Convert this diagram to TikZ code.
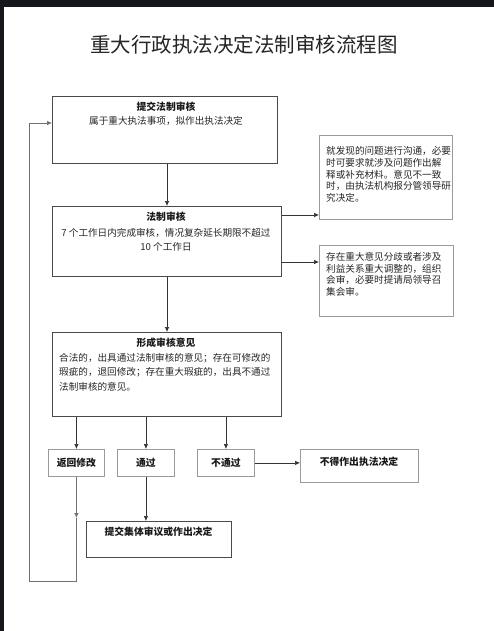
\documentclass[tikz,border=0pt]{standalone}
\usepackage{fontspec}
\setmainfont{Noto Sans CJK SC}
\usetikzlibrary{arrows.meta}
\definecolor{darkbg}{HTML}{16171A}
\definecolor{boxline}{HTML}{4A4A4A}
\definecolor{sideline}{HTML}{9A9A9A}
\definecolor{connline}{HTML}{333333}
\definecolor{loopline}{HTML}{707070}
\tikzset{
  mainbox/.style={draw=boxline, line width=1pt, inner sep=0pt, anchor=north west},
  sidebox/.style={draw=sideline, line width=0.7pt, inner sep=0pt, anchor=north west},
  smallbox/.style={draw=sideline, line width=0.8pt, inner sep=0pt, anchor=north west},
  body/.style={inner sep=0pt, font=\fontsize{9.6}{11}\selectfont, text=black!85},
  head/.style={inner sep=0pt, font=\fontsize{9.8}{11}\selectfont\bfseries, text=black!90},
  arr/.style={draw=connline, line width=0.7pt, -{Latex[length=5pt,width=4.5pt]}},
  looparr/.style={draw=loopline, line width=0.7pt, -{Latex[length=5pt,width=4.5pt]}},
  loopln/.style={draw=loopline, line width=0.7pt},
}
\begin{document}
\begin{tikzpicture}[x=1pt,y=-1pt]
\useasboundingbox (0,0) rectangle (494,631);
\fill[white] (0,0) rectangle (494,631);
\fill[darkbg] (0,0) rectangle (494,7);
\fill[darkbg] (0,0) rectangle (4,631);

% title
\node[inner sep=0pt, font=\fontsize{20.5}{24}\selectfont, text=black!85] (title) at (244,45) {重大行政执法决定法制审核流程图};

% box 1
\node[mainbox, minimum width=225pt, minimum height=67pt] (b1) at (52,96) {};
\node[head] (b1h) at (166,107) {提交法制审核};
\node[body] (b1t) at (166,121) {属于重大执法事项，拟作出执法决定};

% box 2
\node[mainbox, minimum width=229pt, minimum height=70pt] (b2) at (52,206) {};
\node[head] (b2h) at (166,217) {法制审核};
\node[body] (b2t1) at (166,233) {7 个工作日内完成审核，情况复杂延长期限不超过};
\node[body] (b2t2) at (166,247) {10 个工作日};

% box 3
\node[sidebox, minimum width=133pt, minimum height=84pt] (b3) at (319,135) {};
\node[body, anchor=west] (b3a) at (326,151) {就发现的问题进行沟通，必要};
\node[body, anchor=west] (b3b) at (326,163) {时可要求就涉及问题作出解};
\node[body, anchor=west] (b3c) at (326,174.5) {释或补充材料。意见不一致};
\node[body, anchor=west] (b3d) at (326,186) {时，由执法机构报分管领导研};
\node[body, anchor=west] (b3e) at (326,197.5) {究决定。};

% box 4
\node[sidebox, minimum width=134pt, minimum height=71pt] (b4) at (319,245) {};
\node[body, anchor=west] (b4a) at (326,257) {存在重大意见分歧或者涉及};
\node[body, anchor=west] (b4b) at (326,268.5) {利益关系重大调整的，组织};
\node[body, anchor=west] (b4c) at (326,280) {会审，必要时提请局领导召};
\node[body, anchor=west] (b4d) at (326,291.5) {集会审。};

% box 5
\node[mainbox, minimum width=229pt, minimum height=84pt] (b5) at (52,332) {};
\node[head] (b5h) at (166,343) {形成审核意见};
\node[body, anchor=west] (b5a) at (59,358) {合法的，出具通过法制审核的意见；存在可修改的};
\node[body, anchor=west] (b5b) at (59,372.5) {瑕疵的，退回修改；存在重大瑕疵的，出具不通过};
\node[body, anchor=west] (b5c) at (59,387) {法制审核的意见。};

% bottom row
\node[smallbox, minimum width=56pt, minimum height=27pt] (r1) at (48,449) {};
\node[head] (r1t) at (r1.center) {返回修改};
\node[smallbox, minimum width=57pt, minimum height=27pt] (r2) at (117,449) {};
\node[head] (r2t) at (r2.center) {通过};
\node[smallbox, minimum width=57pt, minimum height=27pt] (r3) at (197,449) {};
\node[head] (r3t) at (r3.center) {不通过};
\node[sidebox, minimum width=118pt, minimum height=33pt] (r4) at (300,449) {};
\node[head] (r4t) at (359,462) {不得作出执法决定};
\node[mainbox, line width=0.8pt, minimum width=145pt, minimum height=36pt] (r5) at (86,521) {};
\node[head] (r5t) at (158.5,532) {提交集体审议或作出决定};

% coordinates
\coordinate (y215) at (0,215);
\coordinate (y262) at (0,262);
\coordinate (y518) at (0,518);
\coordinate (y123) at (0,123);
\coordinate (lbl) at (29,581);

% connectors
\draw[arr] (b2.north |- b1.south) -- (b2.north);
\draw[arr] (b2.east |- y215) -- (b3.west |- y215);
\draw[arr] (b2.east |- y262) -- (b4.west |- y262);
\draw[arr] (b5.north |- b2.south) -- (b5.north);
\draw[arr] (r1.north |- b5.south) -- (r1.north);
\draw[arr] (r2.north |- b5.south) -- (r2.north);
\draw[arr] (r3.north |- b5.south) -- (r3.north);
\draw[arr] (r3.east) -- (r3.east -| r4.west);
\draw[arr] (r2.south) -- (r2.south |- r5.north);
\coordinate (la) at (r1.south |- y518);
\draw[looparr] (r1.south) -- (la);
\draw[loopln] (la) |- (lbl);
\draw[looparr] (lbl) |- (b1.west |- y123);
\end{tikzpicture}
\end{document}
